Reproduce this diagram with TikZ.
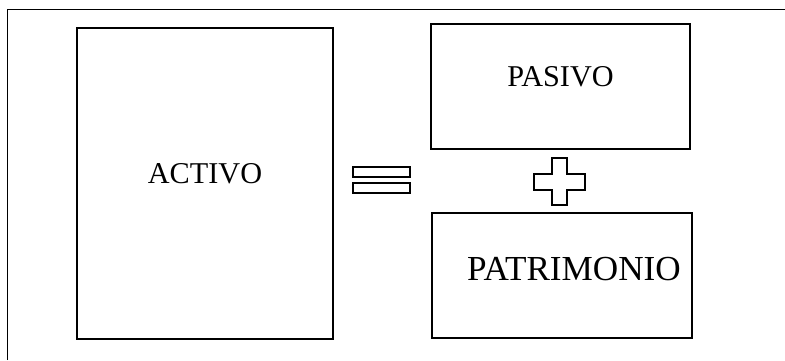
\documentclass[tikz,border=0pt]{standalone}
\usepackage{fontspec}
\setmainfont{Liberation Serif}
\usetikzlibrary{positioning}

\begin{document}
\begin{tikzpicture}[
  box/.style={draw, rectangle, line width=0.9pt, inner sep=0pt},
  bar/.style={draw, rectangle, line width=0.9pt, minimum width=1.425cm, minimum height=0.25cm, inner sep=0pt},
  word/.style={font=\fontsize{21.5}{26}\selectfont, inner sep=0pt},
  bigword/.style={font=\fontsize{25}{30}\selectfont, inner sep=0pt}
]
\useasboundingbox (0,0) rectangle (19.625,9);

% Frame
\coordinate (fl) at (0.1875,0);
\coordinate (tl) at (0.1875,8.7625);
\coordinate (tr) at (19.625,8.7625);
\draw[line width=0.8pt] (fl) -- (tl) -- (tr);

% Left side
\node[box, minimum width=6.4cm, minimum height=7.775cm] (activo) at (5.125,4.4125) {};
\node[word] (activo-txt) at ([yshift=0.24cm]activo.center) {ACTIVO};

% Equals sign
\node[bar] (eq-top) at (9.5375,4.7) {};
\node[bar] (eq-bot) at (9.5375,4.3) {};

% Right side
\node[box, minimum width=6.475cm, minimum height=3.125cm] (pasivo) at (14.0125,6.8375) {};
\node[word] (pasivo-txt) at ([yshift=0.24cm]pasivo.center) {PASIVO};

\node[box, minimum width=6.5cm, minimum height=3.125cm] (patrimonio) at (14.05,2.1125) {};
\node[bigword] (patrimonio-txt) at ([xshift=0.3cm,yshift=0.15cm]patrimonio.center) {PATRIMONIO};

% Plus sign
\draw[line width=0.9pt] (13.8,5.05) -- (14.175,5.05) -- (14.175,4.65) -- (14.625,4.65)
  -- (14.625,4.25) -- (14.175,4.25) -- (14.175,3.875) -- (13.8,3.875) -- (13.8,4.25)
  -- (13.35,4.25) -- (13.35,4.65) -- (13.8,4.65) -- cycle;

\end{tikzpicture}
\end{document}
